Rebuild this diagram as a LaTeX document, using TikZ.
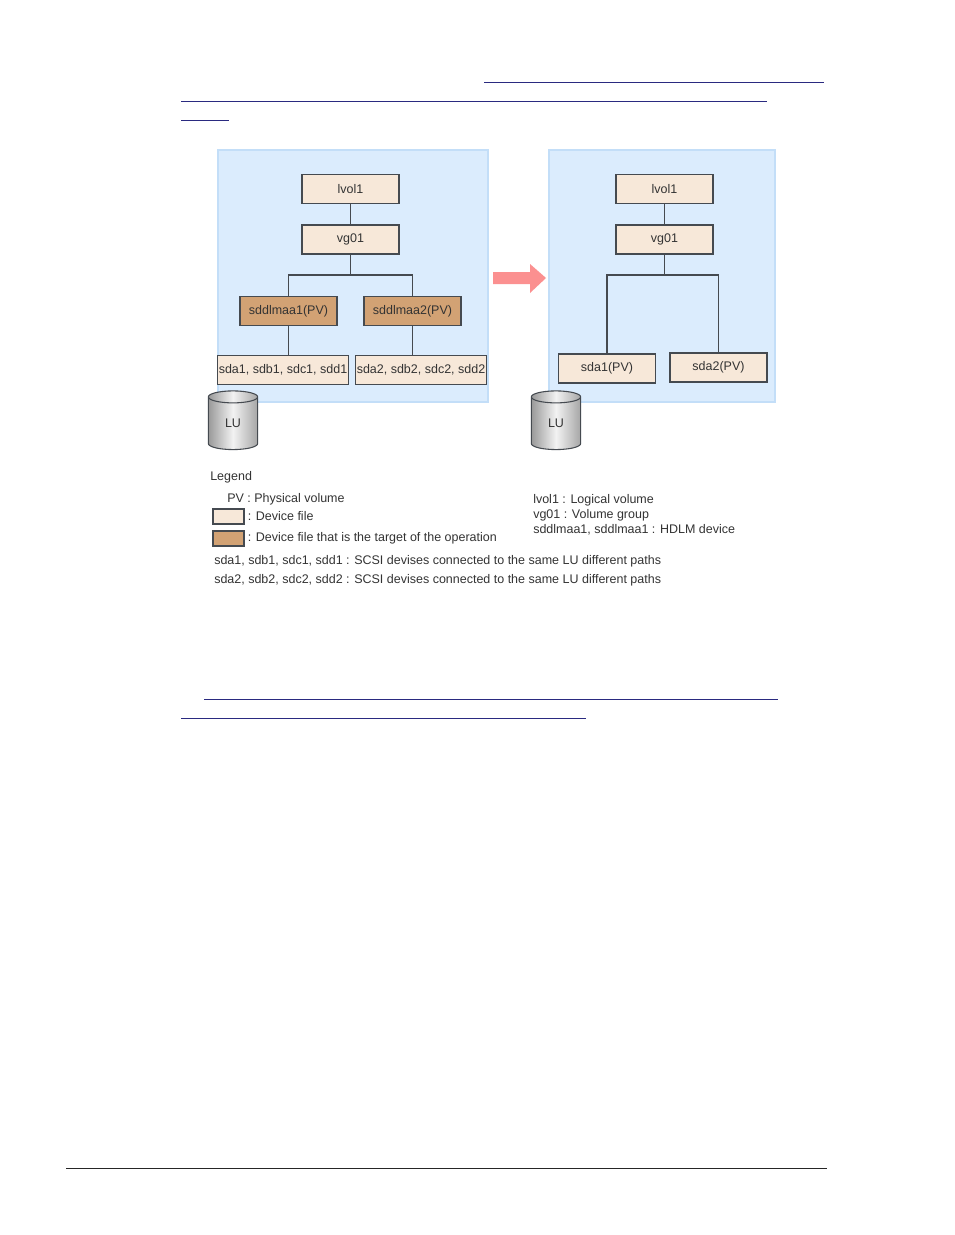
\documentclass[tikz,border=0pt]{standalone}
\usepackage{fontspec}
\setmainfont{Liberation Sans}
\usetikzlibrary{shapes.geometric}
\definecolor{panelblue}{HTML}{DBECFD}
\definecolor{panelline}{HTML}{C3DEF8}
\definecolor{devfile}{HTML}{F7E8D9}
\definecolor{targetfile}{HTML}{D2A274}
\definecolor{boxline}{HTML}{454A50}
\definecolor{arrowred}{HTML}{FB9090}
\definecolor{linkblue}{HTML}{2A2A80}
\definecolor{textgray}{HTML}{333333}
\tikzset{
    panel/.style={draw=panelline,fill=panelblue,line width=0.8pt},
    devbox/.style={draw=boxline,fill=devfile,line width=1.1pt,minimum width=73pt,minimum height=21.5pt,inner sep=0pt,text=textgray},
    widebox/.style={devbox,minimum width=98.5pt},
    targetbox/.style={devbox,fill=targetfile},
    link/.style={draw=boxline,line width=1.25pt},
    lu/.style={cylinder,shape border rotate=90,aspect=0.75,draw=boxline,line width=0.8pt,left color=black!40,right color=black!35,middle color=black!5,minimum width=37pt,minimum height=44pt,inner sep=0pt,outer sep=0pt,text=textgray},
    legend/.style={anchor=west,inner sep=0pt,text=textgray},
    keybox/.style={draw=boxline,line width=1.1pt,minimum width=23pt,minimum height=11pt,inner sep=0pt},
    pageline/.style={draw=linkblue,line width=0.7pt}
}
\begin{document}
\begin{tikzpicture}[x=0.75pt,y=-0.75pt,font=\fontsize{9.37pt}{11pt}\selectfont]
    \useasboundingbox[fill=white] (0,0) rectangle (954,1235);
    % underlined links
    \draw[pageline] (484,82.5) -- (824,82.5);
    \draw[pageline] (181,101.5) -- (767,101.5);
    \draw[pageline] (181,120.5) -- (229,120.5);
    \draw[pageline] (204,699.5) -- (778,699.5);
    \draw[pageline] (181,718.5) -- (586,718.5);
    \draw[draw=black!85,line width=0.6pt] (66,1168.5) -- (827,1168.5);
    % panels
    \path[panel] (218,150) rectangle (488,402);
    \path[panel] (549,150) rectangle (775,402);
    % before
    \node[devbox] (lvol) at (350.5,189) {lvol1};
    \node[devbox] (vg) at (350.5,239.5) {vg01};
    \node[targetbox] (sddlmaa1) at (288.5,311) {sddlmaa1(PV)};
    \node[targetbox] (sddlmaa2) at (412.5,311) {sddlmaa2(PV)};
    \node[widebox] (sda1) at (283,370) {sda1, sdb1, sdc1, sdd1};
    \node[widebox] (sda2) at (421,370) {sda2, sdb2, sdc2, sdd2};
    \coordinate (fork) at (350.5,275);
    \draw[link] (lvol) -- (vg);
    \draw[link] (vg) -- (fork);
    \draw[link] (sddlmaa1.north) |- (fork) -| (sddlmaa2.north);
    \draw[link] (sddlmaa1.south) -- (sddlmaa1.south |- sda1.north);
    \draw[link] (sddlmaa2.south) -- (sddlmaa2.south |- sda2.north);
    % after
    \node[devbox] (lvolb) at (664.5,189) {lvol1};
    \node[devbox] (vgb) at (664.5,239.5) {vg01};
    \node[devbox] (sdaa) at (607,368.5) {sda1(PV)};
    \node[devbox] (sdab) at (718.5,367.5) {sda2(PV)};
    \coordinate (forkb) at (664.5,275);
    \draw[link] (lvolb) -- (vgb);
    \draw[link] (vgb) -- (forkb);
    \draw[link] (sdaa.north) |- (forkb) -| (sdab.north);
    % arrow between the panels
    \fill[arrowred] (493,272) -- (530,272) -- (530,264) -- (546,278) -- (530,293) -- (530,284) -- (493,284) -- cycle;
    % LU
    \node[lu] (lua) at (233,423.5) {\raisebox{-3.5pt}{LU}};
    \node[lu] (lub) at (556,423.5) {\raisebox{-3.5pt}{LU}};
    % legend
    \node[legend] (legendtitle) at (210,477) {Legend};
    \node[legend] (legpv) at (227,499) {PV : Physical volume};
    \node[keybox,fill=devfile] (keydev) at (228.5,516.5) {};
    \node[legend] (legdev) at (247.5,516.5) {: Device file};
    \node[keybox,fill=targetfile] (keytarget) at (228.5,538.5) {};
    \node[legend] (legtarget) at (247.5,538.5) {: Device file that is the target of the operation};
    \node[legend] (legpatha) at (214,561.5) {sda1, sdb1, sdc1, sdd1 : SCSI devises connected to the same LU different paths};
    \node[legend] (legpathb) at (214,580.5) {sda2, sdb2, sdc2, sdd2 : SCSI devises connected to the same LU different paths};
    \node[legend] (leglvol) at (533,500) {lvol1 : Logical volume};
    \node[legend] (legvg) at (533,515) {vg01 : Volume group};
    \node[legend] (leghdlm) at (533,529.5) {sddlmaa1, sddlmaa1 : HDLM device};
\end{tikzpicture}
\end{document}
